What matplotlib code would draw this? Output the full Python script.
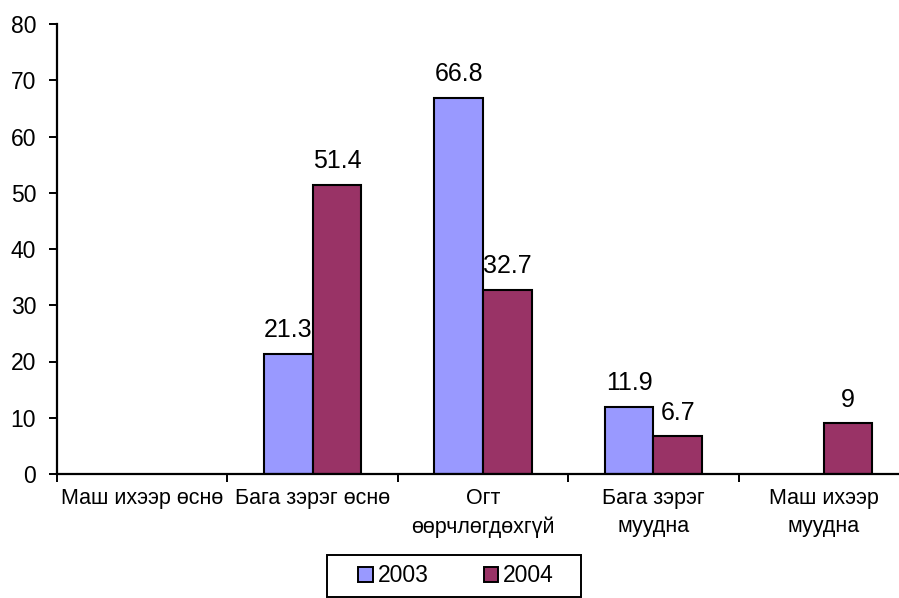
import numpy as np
import matplotlib
matplotlib.use("Agg")
import matplotlib.pyplot as plt
from matplotlib.patches import Rectangle

plt.rcParams['font.family'] = ['Liberation Sans', 'DejaVu Sans']

categories = ["Маш ихээр өснө", "Бага зэрэг өснө", "Огт\nөөрчлөгдөхгүй",
              "Бага зэрэг\nмуудна", "Маш ихээр\nмуудна"]
series_names = ["2003", "2004"]
values_2003 = [np.nan, 21.3, 66.8, 11.9, np.nan]
values_2004 = [np.nan, 51.4, 32.7, 6.7, 9]
yticks = [0, 10, 20, 30, 40, 50, 60, 70, 80]

colors = ["#9999FF", "#993366"]

fig = plt.figure(figsize=(8.99, 5.98), dpi=100)
ax = fig.add_axes([57/899, 124/598, 852/899, 450/598])

x = np.arange(len(categories))
w = 0.285
for i, (vals, c, name) in enumerate(zip([values_2003, values_2004], colors, series_names)):
    pos = x + (i - 0.5) * w
    ax.bar(pos, vals, width=w, color=c, edgecolor="black", linewidth=1.5, label=name)
    for p, v in zip(pos, vals):
        if not np.isnan(v):
            ax.annotate(f"{v:g}", (p, v), xytext=(0, 8.5), textcoords="offset points",
                        ha="center", va="bottom", fontsize=18)

ax.set_xlim(-0.5, len(categories) - 0.5)
ax.set_ylim(0, 80)
ax.set_yticks(yticks)
ax.tick_params(axis='y', labelsize=16.5, length=6, width=1.4, direction='out', pad=9)
ax.set_xticks(x)
ax.set_xticklabels(categories, fontsize=15.5, linespacing=1.45)
ax.tick_params(axis='x', which='major', length=0, pad=10)
ax.set_xticks(np.arange(len(categories) + 1) - 0.5, minor=True)
ax.tick_params(axis='x', which='minor', length=6, width=1.4, direction='out')

for s in ['top', 'right']:
    ax.spines[s].set_visible(False)
for s in ['left', 'bottom']:
    ax.spines[s].set_linewidth(1.6)

leg = fig.legend(loc='center', bbox_to_anchor=(456/899, 1 - 576/598), ncol=2,
                 fontsize=16.5, frameon=False,
                 handlelength=0.65, handleheight=0.65, handletextpad=0.2,
                 columnspacing=2.4, borderpad=0.0, borderaxespad=0)
for h in leg.legend_handles:
    h.set_linewidth(1.4)
fig.patches.append(Rectangle((327/899, 1 - 597/598), 254/899, 42/598,
                             transform=fig.transFigure, fill=False,
                             edgecolor='black', linewidth=1.4))

fig.savefig("out.png", dpi=100)
